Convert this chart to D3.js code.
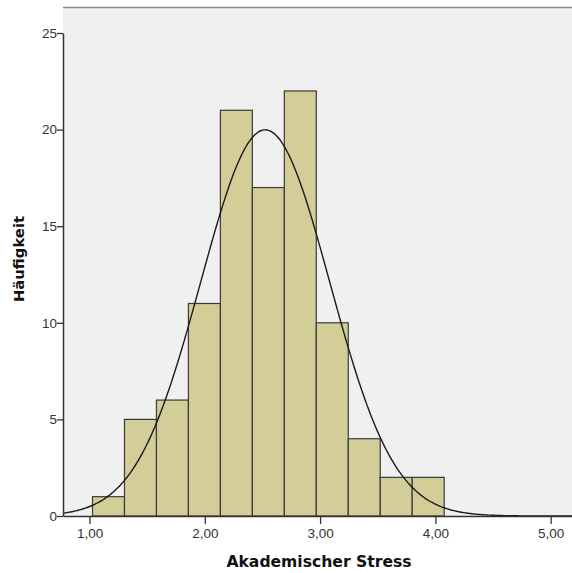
<!DOCTYPE html>
<html>
<head>
<meta charset="utf-8">
<script src="https://cdn.jsdelivr.net/npm/d3@7"></script>
<style>
  body { margin: 0; background: #fff; }
  svg { display: block; font-family: "Liberation Sans", Arial, sans-serif; }
</style>
</head>
<body>
<script>
// histogram data
var binStart = 1.026,
    binWidth = 0.2773,
    counts = [1, 5, 6, 11, 21, 17, 22, 10, 4, 2, 2],
    meanVal = 2.524,
    sdVal = 0.559,
    xTicks = [1, 2, 3, 4, 5],
    yTicks = [0, 5, 10, 15, 20, 25];

var W = 572, H = 573,
    margin = { top: 7, right: 0, bottom: 57, left: 63 },
    width = W - margin.left - margin.right,
    height = H - margin.top - margin.bottom;

var svg = d3.select("body").append("svg").attr("width", W).attr("height", H);
var g = svg.append("g").attr("transform", "translate(" + margin.left + "," + margin.top + ")");

var x = d3.scaleLinear().domain([0.77, 5.185]).range([0, width]),
    y = d3.scaleLinear().domain([0, 25]).range([height, height - 25 * 19.32]);

g.append("rect").attr("width", width).attr("height", height).attr("fill", "#f0f0f0");
g.append("line").attr("x1", 0).attr("x2", width).attr("y1", 0.5).attr("y2", 0.5)
    .attr("stroke", "#8a8a8a").attr("stroke-width", 1.5);

var bins = counts.map((c, i) => ({ x0: binStart + i * binWidth, x1: binStart + (i + 1) * binWidth, n: c }));

g.selectAll("rect.bar").data(bins).enter().append("rect")
    .attr("class", "bar")
    .attr("x", d => x(d.x0))
    .attr("width", d => x(d.x1) - x(d.x0))
    .attr("y", d => y(d.n))
    .attr("height", d => y(0) - y(d.n))
    .attr("fill", "#d3ce97")
    .attr("stroke", "#3a3a3a")
    .attr("stroke-width", 1.2);

// normal curve scaled to counts
var total = d3.sum(counts);
var curve = d3.range(0, 401).map(i => {
  var v = 0.77 + i * (5.185 - 0.77) / 400;
  var z = (v - meanVal) / sdVal;
  return { v: v, f: total * binWidth / (sdVal * Math.sqrt(2 * Math.PI)) * Math.exp(-0.5 * z * z) };
});
g.append("path")
    .attr("d", d3.line().x(d => x(d.v)).y(d => y(d.f)).curve(d3.curveBasis)(curve))
    .attr("fill", "none").attr("stroke", "#1a1a1a").attr("stroke-width", 1.4);

var xAxis = g.append("g").attr("transform", "translate(0," + height + ")")
    .call(d3.axisBottom(x).tickValues(xTicks).tickSize(7).tickSizeOuter(0)
      .tickFormat(d => d3.format(".2f")(d).replace(".", ",")));
var yAxis = g.append("g")
    .call(d3.axisLeft(y).tickValues(yTicks).tickSize(6).tickSizeOuter(0));

[xAxis, yAxis].forEach(a => {
  a.select(".domain").attr("stroke", "#333").attr("stroke-width", 1.5);
  a.selectAll(".tick line").attr("stroke", "#333").attr("stroke-width", 1.3);
  a.selectAll(".tick text").attr("fill", "#333").style("font-size", "13.5px");
});
xAxis.selectAll(".tick line").attr("y1", 0).attr("y2", 7).attr("transform", "translate(0,1)");
xAxis.selectAll(".tick text").attr("y", 12);
yAxis.selectAll(".tick text").attr("x", -6);

svg.append("text")
    .attr("x", 319).attr("y", 567)
    .attr("text-anchor", "middle")
    .style("font-family", "'DejaVu Sans', sans-serif")
    .style("font-size", "15.6px").style("font-weight", "bold").attr("fill", "#111")
    .text("Akademischer Stress");

svg.append("text")
    .attr("transform", "translate(24,259) rotate(-90)")
    .attr("text-anchor", "middle")
    .style("font-family", "'DejaVu Sans', sans-serif")
    .style("font-size", "14.8px").style("font-weight", "bold").attr("fill", "#111")
    .text("Häufigkeit");
</script>
</body>
</html>
